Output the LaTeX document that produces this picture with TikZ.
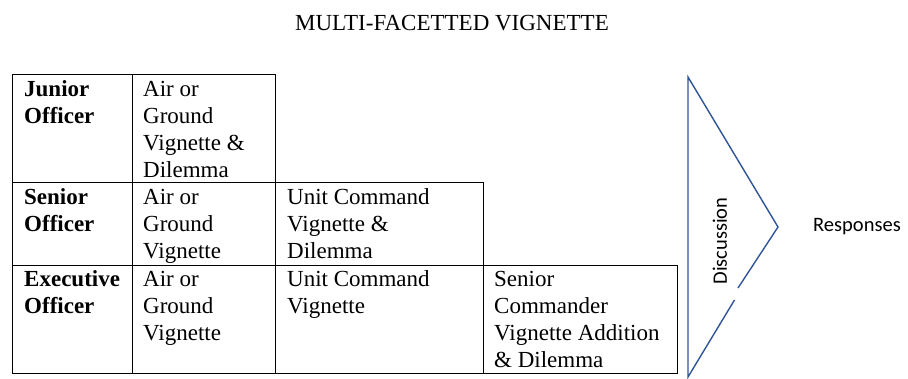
\documentclass[tikz,border=0pt]{standalone}
\usepackage{fontspec}
\setmainfont{Liberation Serif}
\newfontfamily\tnr{Liberation Serif}
\newfontfamily\calibri{Carlito}
\definecolor{triblue}{HTML}{2F5597}
\begin{document}
\begin{tikzpicture}[x=1pt,y=-1pt,
  cell/.style={draw=black,line width=0.9pt,anchor=north west,inner sep=0pt,outer sep=0pt},
  celltext/.style={anchor=base west,inner sep=0pt,font=\tnr\fontsize{23}{27}\selectfont,align=left},
  headtext/.style={anchor=base west,inner sep=0pt,font=\tnr\bfseries\fontsize{23}{27}\selectfont,align=left},
  tri/.style={draw=triblue,line width=1.4pt,line join=miter}]
\useasboundingbox (0,0) rectangle (908,379);
\node[font=\tnr\fontsize{23}{27}\selectfont,anchor=base] (title) at (452,31) {MULTI-FACETTED VIGNETTE};
% Junior row
\node[cell,minimum width=120,minimum height=108.5] (j1) at (12,74) {};
\node[cell,minimum width=143,minimum height=108.5] (j2) at (j1.north east) {};
% Senior row
\node[cell,minimum width=120,minimum height=82.5] (s1) at (j1.south west) {};
\node[cell,minimum width=143,minimum height=82.5] (s2) at (s1.north east) {};
\node[cell,minimum width=208,minimum height=82.5] (s3) at (s2.north east) {};
% Executive row
\node[cell,minimum width=120,minimum height=108] (e1) at (s1.south west) {};
\node[cell,minimum width=143,minimum height=108] (e2) at (e1.north east) {};
\node[cell,minimum width=208,minimum height=108] (e3) at (e2.north east) {};
\node[cell,minimum width=194,minimum height=108] (e4) at (e3.north east) {};
% texts
\node[headtext] (tj1) at ([xshift=12,yshift=-22.5]j1.north west) {\parbox[t]{110pt}{Junior\\Officer}};
\node[celltext] (tj2) at ([xshift=11,yshift=-22.5]j2.north west) {\parbox[t]{130pt}{Air or\\Ground\\Vignette \&\\Dilemma}};
\node[headtext] (ts1) at ([xshift=12,yshift=-22.5]s1.north west) {\parbox[t]{110pt}{Senior\\Officer}};
\node[celltext] (ts2) at ([xshift=11,yshift=-22.5]s2.north west) {\parbox[t]{130pt}{Air or\\Ground\\Vignette}};
\node[celltext] (ts3) at ([xshift=12,yshift=-22.5]s3.north west) {\parbox[t]{200pt}{Unit Command\\Vignette \&\\Dilemma}};
\node[headtext] (te1) at ([xshift=12,yshift=-22]e1.north west) {\parbox[t]{110pt}{Executive\\Officer}};
\node[celltext] (te2) at ([xshift=11,yshift=-22]e2.north west) {\parbox[t]{130pt}{Air or\\Ground\\Vignette}};
\node[celltext] (te3) at ([xshift=12,yshift=-22]e3.north west) {\parbox[t]{200pt}{Unit Command\\Vignette}};
\node[celltext] (te4) at ([xshift=11,yshift=-22]e4.north west) {\parbox[t]{190pt}{Senior\\Commander\\Vignette Addition\\\& Dilemma}};
% triangle
\coordinate (ttop) at (688,77);
\coordinate (tbot) at (688,377);
\coordinate (tapex) at (778,227);
\coordinate (gapa) at (738,288);
\coordinate (gapb) at (734.5,300);
\draw[tri] (gapa) -- (tapex) -- (ttop) -- (tbot) -- (gapb);
\node[rotate=90,font=\calibri\fontsize{20.5}{24}\selectfont,inner sep=0pt] (disc) at (720,241) {Discussion};
\node[anchor=base west,font=\calibri\fontsize{20.5}{24}\selectfont,inner sep=0pt] (resp) at (813,232) {Responses};
\end{tikzpicture}
\end{document}
